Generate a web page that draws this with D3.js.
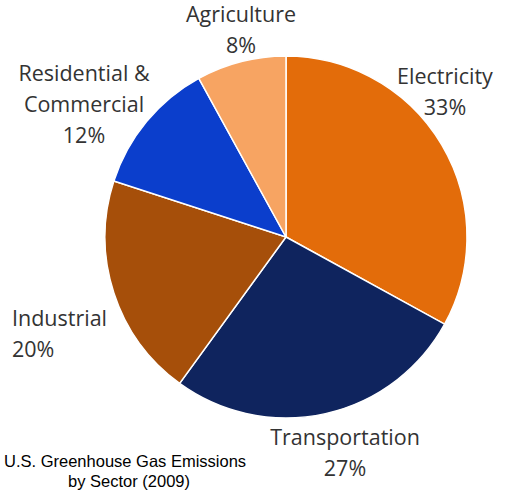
<!DOCTYPE html>
<html>
<head>
<script src="https://d3js.org/d3.v7.min.js"></script>
<style>
  body { margin: 0; background: #fff; }
  .lbl { font-family: "Open Sans", sans-serif; font-size: 21.5px; fill: #333; }
  .title { font-family: "Liberation Sans", Arial, sans-serif; font-size: 16.5px; fill: #000; }
</style>
</head>
<body>
<svg id="chart" width="507" height="494"></svg>
<script>
// data
const sectors = ["Electricity", "Transportation", "Industrial", "Residential & Commercial", "Agriculture"];
const shares = [33, 27, 20, 12, 8];
const colors = ["#E36C0A", "#0F245E", "#A64F0A", "#0B3ECC", "#F7A462"];
// label lines and their placement (anchor of text block)
const labelLines = [["Electricity", "33%"], ["Transportation", "27%"], ["Industrial", "20%"], ["Residential &", "Commercial", "12%"], ["Agriculture", "8%"]];
const labelPos = [[445, 84], [345, 445], [12, 326], [84, 81], [241, 22]];
const labelAnchor = ["middle", "middle", "start", "middle", "middle"];

const svg = d3.select("#chart");
const cx = 286, cy = 237, r = 181;

const pie = d3.pie().sort(null).value(d => d);
const arc = d3.arc().innerRadius(0).outerRadius(r);

svg.append("g")
  .attr("transform", `translate(${cx},${cy})`)
  .selectAll("path")
  .data(pie(shares))
  .join("path")
  .attr("d", arc)
  .attr("fill", (d, i) => colors[i])
  .attr("stroke", "#fff")
  .attr("stroke-width", 1.5);

labelLines.forEach((lines, i) => {
  const t = svg.append("text").attr("class", "lbl").attr("text-anchor", labelAnchor[i]);
  lines.forEach((s, j) => {
    t.append("tspan").attr("x", labelPos[i][0]).attr("y", labelPos[i][1] + j * 31).text(s);
  });
});

svg.append("text").attr("class", "title").attr("x", 4).attr("y", 467).text("U.S. Greenhouse Gas Emissions");
svg.append("text").attr("class", "title").attr("x", 129).attr("y", 487).attr("text-anchor", "middle").text("by Sector (2009)");
</script>
</body>
</html>
